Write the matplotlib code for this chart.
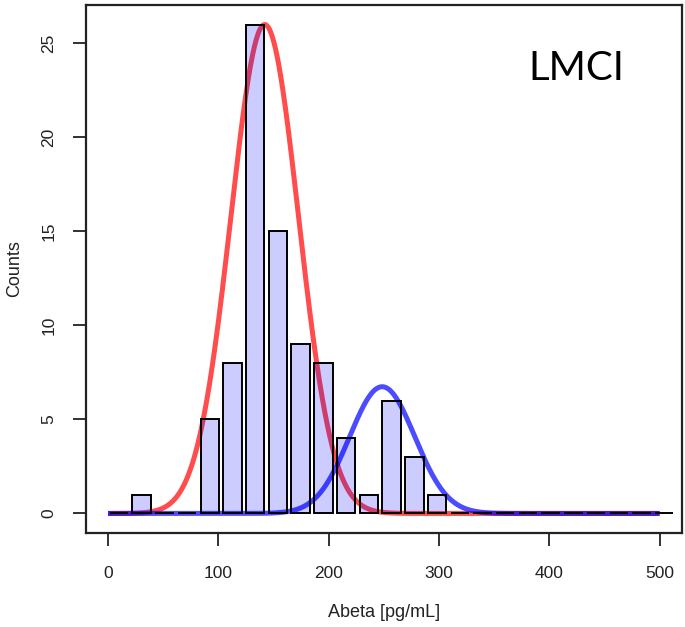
import numpy as np
import matplotlib
matplotlib.use("Agg")
import matplotlib.pyplot as plt

# Histogram of Abeta concentrations (LMCI group)
bin_start = -0.5          # lower edge of the first bin [pg/mL]
bin_width = 20.6          # bin width [pg/mL]
counts = [0, 1, 0, 0, 5, 8, 26, 15, 9, 8, 4, 1, 6, 3, 1,
          0, 0, 0, 0, 0, 0, 0, 0, 0, 0]

# Two fitted Gaussian components, scaled to counts
comp_mean = [142.0, 248.5]
comp_sd = [30.7, 29.5]
comp_peak = [26.0, 6.74]
comp_color = [(1.0, 0.0, 0.0, 0.7), (0.0, 0.0, 1.0, 0.7)]

x_ticks = [0, 100, 200, 300, 400, 500]
y_ticks = [0, 5, 10, 15, 20, 25]

plt.rcParams["font.family"] = ["Liberation Sans", "DejaVu Sans"]

fig = plt.figure(figsize=(6.85, 6.27), dpi=100)
ax = fig.add_axes([86 / 685, 1 - 533 / 627, (681.7 - 86) / 685, (533 - 5) / 627])

# mixture components
xs = np.linspace(0, 500, 1001)
for m, s, h, c in zip(comp_mean, comp_sd, comp_peak, comp_color):
    ax.plot(xs, h * np.exp(-0.5 * ((xs - m) / s) ** 2), color=c, lw=3.6,
            solid_capstyle="butt", zorder=2)

# histogram bars (drawn over the curves with a translucent fill)
centers = bin_start + bin_width * (np.arange(len(counts)) + 0.5)
ax.bar(centers, counts, width=bin_width * 0.81, facecolor=(0, 0, 1, 0.2),
       edgecolor="black", linewidth=1.4, zorder=3)

ax.set_xlim(-20, 520)
ax.set_ylim(-1.04, 27.04)
ax.set_xticks(x_ticks)
ax.set_yticks(y_ticks)
ax.tick_params(axis="both", direction="out", length=9.5, width=1.3,
               color="#222222", labelsize=12.5, labelcolor="#222222")
ax.tick_params(axis="x", pad=14)
ax.tick_params(axis="y", pad=12)
for lab in ax.get_yticklabels():
    lab.set_rotation(90)
    lab.set_va("center")
for sp in ax.spines.values():
    sp.set_linewidth(1.6)
    sp.set_color("#222222")

ax.set_xlabel("Abeta [pg/mL]", fontsize=13, color="#222222", labelpad=17)
ax.set_ylabel("Counts", fontsize=13, color="#222222", labelpad=13)

fig.text(528 / 685, 1 - 80 / 627, "LMCI", fontsize=29, family=["Lato", "DejaVu Sans"],
         ha="left", va="baseline", color="black")

fig.savefig("out.png", dpi=100)
